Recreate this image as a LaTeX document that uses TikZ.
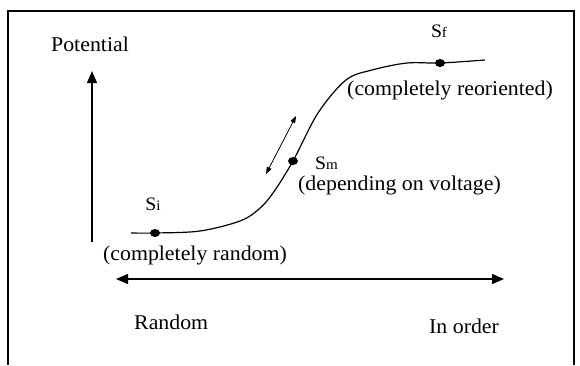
\documentclass[tikz,border=0pt]{standalone}
\usepackage{fontspec}
\setmainfont[FakeStretch=1.04]{Liberation Serif}
\usetikzlibrary{arrows.meta,shapes.geometric}
\newcommand\bigS{{\fontsize{19}{19}\selectfont S}}
\newcommand\smallsub[1]{{\fontsize{14.5}{14.5}\selectfont #1}}
\begin{document}
\begin{tikzpicture}[x=1pt,y=-1pt,
  lbl/.style={font=\fontsize{21}{24}\selectfont, inner sep=0pt},
  dot/.style={ellipse, fill, minimum width=10pt, minimum height=8pt, inner sep=0pt},
  bigarrow/.style={line width=1.3pt},
  bigtip/.tip={Triangle[length=12pt,width=10pt]},
  smalltip/.tip={Triangle[length=7pt,width=5pt]}]
\useasboundingbox (0,0) rectangle (580,365);
% frame
\draw[line width=1.2pt] (8,365) -- (8,11) -- (574,11) -- (574,365);
% axes
\coordinate (vb) at (92,242);
\coordinate (vt) at (92,71);
\draw[bigarrow,-bigtip] (vb) -- (vt);
\coordinate (hl) at (116,279);
\coordinate (hr) at (504,279);
\draw[bigarrow,bigtip-bigtip] (hl) -- (hr);
% curve
\draw[line width=1.2pt] plot[smooth, tension=0.55] coordinates {(131,233) (155,233) (200,231) (240,221) (259,209) (273,193) (293,161) (318,113) (346,80) (372,70) (407,63) (440,63) (485,60)};
\node[dot] (si) at (155,233) {};
\node[dot] (sm) at (293,161) {};
\node[dot] (sf) at (440,63) {};
% small double arrow
\coordinate (da) at (296,116);
\coordinate (db) at (266,174);
\draw[line width=0.8pt,smalltip-smalltip] (da) -- (db);
% labels
\node[lbl,anchor=base] (pot) at (90,51) {Potential};
\node[lbl,anchor=base] (lsi) at (153,210) {\bigS\smallsub{i}};
\node[lbl,anchor=base west] (lsm) at (315,169) {\bigS\smallsub{m}};
\node[lbl,anchor=base] (lsf) at (439,37) {\bigS\smallsub{f}};
\node[lbl,anchor=base] (crand) at (195,260) {(completely random)};
\node[lbl,anchor=base west] (dep) at (298,190) {(depending on voltage)};
\node[lbl,anchor=base east] (creo) at (553,95) {(completely reoriented)};
\node[lbl,anchor=base west] (rand) at (134,329) {Random};
\node[lbl,anchor=base west] (ord) at (429,333) {In order};
\end{tikzpicture}
\end{document}
